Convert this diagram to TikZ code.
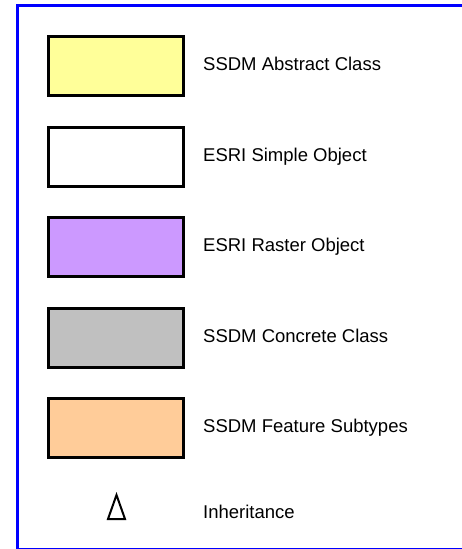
\documentclass[tikz,border=0pt]{standalone}
\usepackage{fontspec}
\setmainfont{Liberation Sans}
\usepackage{tikz}

\definecolor{ssdmyellow}{RGB}{255,255,153}
\definecolor{rasterpurple}{RGB}{204,153,255}
\definecolor{concretegrey}{RGB}{192,192,192}
\definecolor{subtypeorange}{RGB}{255,204,153}

\tikzset{
  keybox/.style={draw=black, line width=3pt, minimum width=135pt, minimum height=59pt, inner sep=0pt},
  keytext/.style={anchor=base west, inner sep=0pt, font=\fontsize{18.5}{22}\selectfont}
}

\begin{document}
\begin{tikzpicture}[x=1pt,y=-1pt]

\useasboundingbox (0,0) rectangle (462,549);

% frame
\begin{scope}
\clip (0,0) rectangle (462,549);
\draw[blue, line width=3pt] (17.5,5.5) rectangle (480,549.8);
\end{scope}

\node[keybox, fill=ssdmyellow] (abstract) at (116,66) {};
\node[keytext] (abstractlbl) at (203,70) {SSDM Abstract Class};

\node[keybox, fill=white] (simple) at (116,157) {};
\node[keytext] (simplelbl) at (203,161) {ESRI Simple Object};

\node[keybox, fill=rasterpurple] (raster) at (116,247) {};
\node[keytext] (rasterlbl) at (203,251) {ESRI Raster Object};

\node[keybox, fill=concretegrey] (concrete) at (116,338) {};
\node[keytext] (concretelbl) at (203,342) {SSDM Concrete Class};

\node[keybox, fill=subtypeorange] (subtype) at (116,428) {};
\node[keytext] (subtypelbl) at (203,432) {SSDM Feature Subtypes};

% inheritance arrow head
\draw[line width=2pt, line join=miter] (108,519) -- (116.5,495) -- (125,519) -- cycle;
\node[keytext] (inheritlbl) at (203,518) {Inheritance};

\end{tikzpicture}
\end{document}
